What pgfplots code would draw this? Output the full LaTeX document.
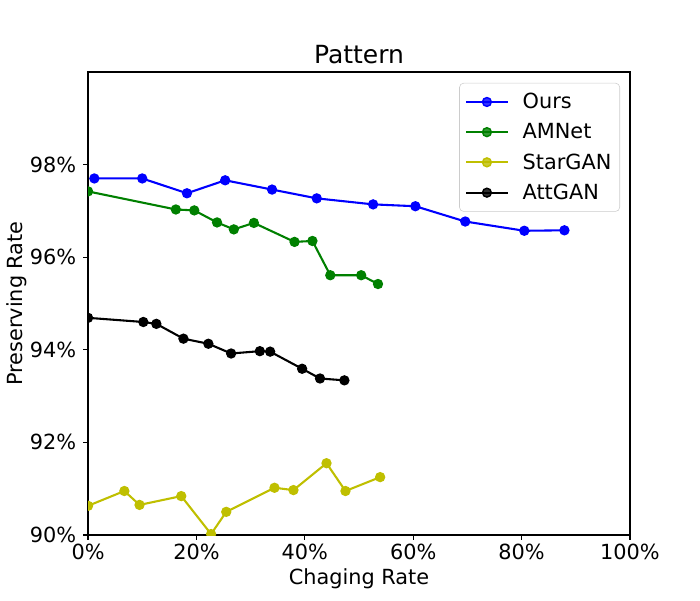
\documentclass[border=0pt]{standalone}
\usepackage{fontspec}
\setmainfont{DejaVu Sans}
\usepackage{pgfplots}
\pgfplotsset{compat=1.18}
\definecolor{mplgreen}{rgb}{0,0.5,0}
\definecolor{mplyellow}{rgb}{0.75,0.75,0}
\begin{document}
\begin{tikzpicture}
\path[use as bounding box] (-63.4pt,-46.8pt) rectangle (440.6pt,385.2pt);
\begin{axis}[
  at={(0,0)}, anchor=south west,
  scale only axis, width=390.2pt, height=333.4pt,
  xmin=0, xmax=100, ymin=90, ymax=100,
  xtick={0,20,40,60,80,100}, ytick={90,92,94,96,98},
  /pgf/number format/assume math mode=true,
  xticklabel={\pgfmathprintnumber{\tick}\%},
  yticklabel={\pgfmathprintnumber{\tick}\%},
  tick pos=left, tick align=outside,
  major tick length=3.5pt,
  every tick/.style={black, line width=0.8pt},
  axis line style={line width=0.8pt},
  ticklabel style={font=\fontsize{15}{18}\selectfont},
  xticklabel style={anchor=base, inner sep=0pt, yshift=-14pt},
  yticklabel style={anchor=east, inner sep=0pt, xshift=-4.9pt},
  title={Pattern},
  title style={font=\fontsize{18}{22}\selectfont, at={(axis description cs:0.5,1)}, anchor=base, inner sep=0pt},
  xlabel={Chaging Rate},
  xlabel style={font=\fontsize{15}{18}\selectfont, at={(axis description cs:0.5,-0.1059)}, anchor=base, inner sep=0pt},
  ylabel={Preserving Rate},
  ylabel style={font=\fontsize{15}{18}\selectfont, at={(axis description cs:-0.1205,0.5)}, anchor=base, inner sep=0pt},
  clip marker paths=true,
  legend image code/.code={\draw[mark repeat=2,mark phase=2] plot coordinates {(0pt,0pt) (15pt,0pt) (30pt,0pt)};},
  legend cell align=left,
  legend style={at={(1,1)}, anchor=north east, xshift=-7.2pt, yshift=-7.9pt,
    font=\fontsize{15}{18}\selectfont, draw=black!20, rounded corners=3pt,
    fill=white, fill opacity=0.8, text opacity=1,
    inner xsep=4pt, inner ysep=5.2pt, row sep=5.2pt, column sep=8pt,
    nodes={inner sep=2pt}},
  every axis plot/.append style={line width=1.5pt, mark=*, mark size=3.2pt, mark options={solid, line width=1pt}},
]
\addplot[color=blue] coordinates {(1.16,97.70)(10.0,97.70)(18.25,97.38)(25.3,97.66)(33.95,97.46)(42.2,97.27)(52.6,97.14)(60.4,97.10)(69.6,96.77)(80.5,96.57)(87.9,96.58)};
\addlegendentry{Ours}
\addplot[color=mplgreen] coordinates {(0,97.42)(16.2,97.03)(19.6,97.01)(23.8,96.75)(26.9,96.60)(30.6,96.74)(38.1,96.33)(41.4,96.35)(44.7,95.61)(50.4,95.61)(53.5,95.42)};
\addlegendentry{AMNet}
\addplot[color=mplyellow] coordinates {(0,90.63)(6.7,90.95)(9.5,90.65)(17.2,90.84)(22.7,90.02)(25.5,90.50)(34.4,91.02)(37.9,90.97)(44.0,91.55)(47.5,90.95)(53.9,91.25)};
\addlegendentry{StarGAN}
\addplot[color=black] coordinates {(0,94.69)(10.2,94.60)(12.6,94.56)(17.6,94.24)(22.2,94.13)(26.4,93.92)(31.7,93.97)(33.6,93.96)(39.5,93.59)(42.8,93.38)(47.3,93.34)};
\addlegendentry{AttGAN}
\end{axis}
\end{tikzpicture}
\end{document}
